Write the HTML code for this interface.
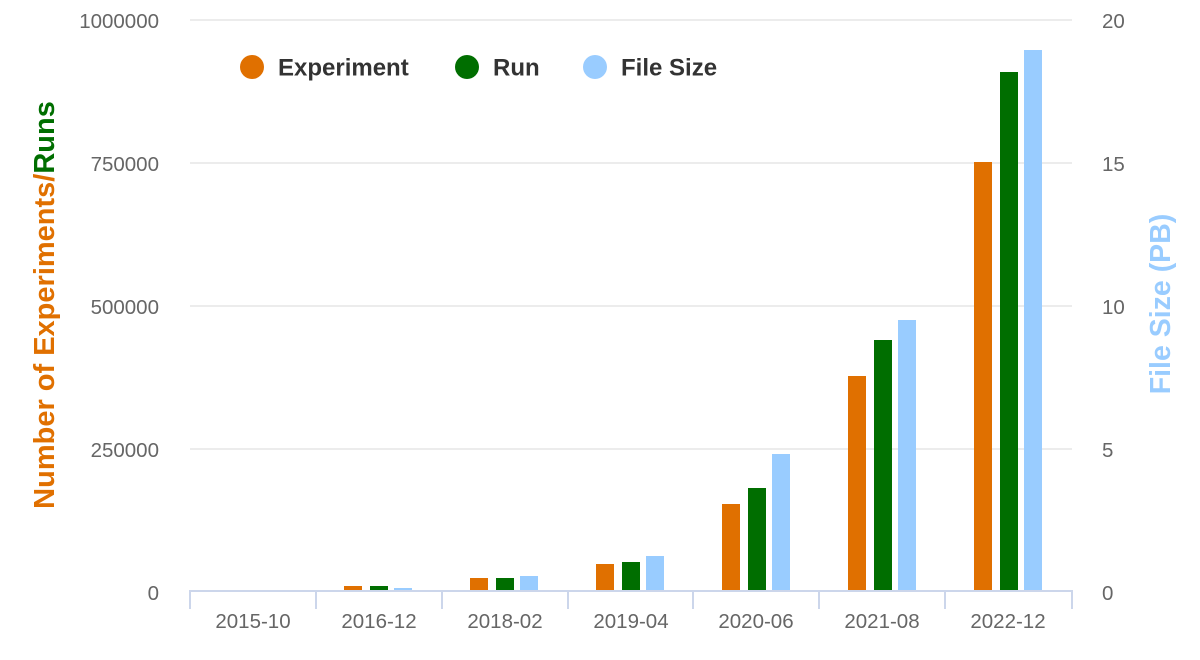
<!DOCTYPE html>
<html><head><meta charset="utf-8"><style>body{margin:0;background:#fff}svg{display:block}</style></head><body>
<svg width="1200" height="660" viewBox="0 0 1200 660" xmlns="http://www.w3.org/2000/svg" font-family="Liberation Sans, Arial, sans-serif">
<g stroke="#e6e6e6" stroke-width="1.5">
<line x1="190" y1="20" x2="1072" y2="20"/><line x1="190" y1="163" x2="1072" y2="163"/><line x1="190" y1="306" x2="1072" y2="306"/><line x1="190" y1="449" x2="1072" y2="449"/>
</g>
<g fill="#666" font-size="20.5">
<g text-anchor="end"><text x="159" y="28">1000000</text><text x="159" y="171">750000</text><text x="159" y="314">500000</text><text x="159" y="457">250000</text><text x="159" y="600">0</text></g>
<g text-anchor="start"><text x="1102" y="28">20</text><text x="1102" y="171">15</text><text x="1102" y="314">10</text><text x="1102" y="457">5</text><text x="1102" y="600">0</text></g>
<g text-anchor="middle"><text x="253" y="628">2015-10</text><text x="379" y="628">2016-12</text><text x="505" y="628">2018-02</text><text x="631" y="628">2019-04</text><text x="756" y="628">2020-06</text><text x="882" y="628">2021-08</text><text x="1008" y="628">2022-12</text></g>
</g>
<g>
<rect x="344" y="586" width="18" height="5" fill="#e07000"/><rect x="370" y="586" width="18" height="5" fill="#006e00"/><rect x="394" y="588" width="18" height="3" fill="#99ccff"/>
<rect x="470" y="578" width="18" height="13" fill="#e07000"/><rect x="496" y="578" width="18" height="13" fill="#006e00"/><rect x="520" y="576" width="18" height="15" fill="#99ccff"/>
<rect x="596" y="564" width="18" height="27" fill="#e07000"/><rect x="622" y="562" width="18" height="29" fill="#006e00"/><rect x="646" y="556" width="18" height="35" fill="#99ccff"/>
<rect x="722" y="504" width="18" height="87" fill="#e07000"/><rect x="748" y="488" width="18" height="103" fill="#006e00"/><rect x="772" y="454" width="18" height="137" fill="#99ccff"/>
<rect x="848" y="376" width="18" height="215" fill="#e07000"/><rect x="874" y="340" width="18" height="251" fill="#006e00"/><rect x="898" y="320" width="18" height="271" fill="#99ccff"/>
<rect x="974" y="162" width="18" height="429" fill="#e07000"/><rect x="1000" y="72" width="18" height="519" fill="#006e00"/><rect x="1024" y="50" width="18" height="541" fill="#99ccff"/>
</g>
<g stroke="#ccd6eb" stroke-width="2">
<line x1="189" y1="591" x2="1073" y2="591"/>
<line x1="190" y1="591" x2="190" y2="609"/><line x1="316" y1="591" x2="316" y2="609"/><line x1="442" y1="591" x2="442" y2="609"/><line x1="568" y1="591" x2="568" y2="609"/><line x1="693" y1="591" x2="693" y2="609"/><line x1="819" y1="591" x2="819" y2="609"/><line x1="945" y1="591" x2="945" y2="609"/><line x1="1072" y1="591" x2="1072" y2="609"/>
</g>
<g font-size="24" font-weight="bold" fill="#333">
<circle cx="252" cy="67" r="12" fill="#e07000"/><text x="278" y="75.5">Experiment</text>
<circle cx="467" cy="67" r="12" fill="#006e00"/><text x="493" y="75.5">Run</text>
<circle cx="595" cy="67" r="12" fill="#99ccff"/><text x="621" y="75.5">File Size</text>
</g>
<text transform="translate(54,305) rotate(-90)" text-anchor="middle" font-size="29" font-weight="bold"><tspan fill="#e07000">Number of Experiments/</tspan><tspan fill="#006e00">Runs</tspan></text>
<text transform="translate(1170,304) rotate(-90)" text-anchor="middle" font-size="28.5" font-weight="bold" fill="#99ccff">File Size (PB)</text>
</svg>
</body></html>
